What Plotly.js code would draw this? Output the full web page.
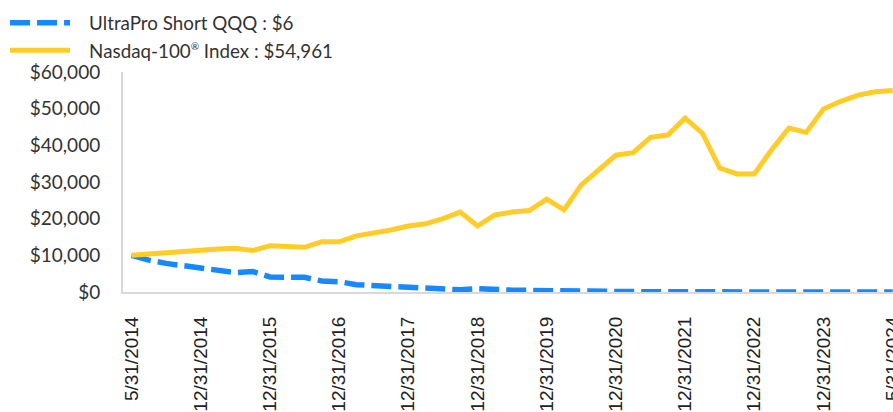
<!DOCTYPE html>
<html>
<head>
<meta charset="utf-8">
<script src="https://cdn.plot.ly/plotly-3.0.1.min.js"></script>
<style>
  html, body { margin: 0; padding: 0; background: #fff; overflow: hidden; }
  #chart { width: 893px; height: 412px; }
</style>
</head>
<body>
<div id="chart"></div>
<script>
// Period index (quarterly points)
const periods = Array.from({length: 45}, (_, i) => i);

const tickIndex = [0, 4, 8, 12, 16, 20, 24, 28, 32, 36, 40, 44];
const tickLabels = ["5/31/2014", "12/31/2014", "12/31/2015", "12/31/2016", "12/31/2017",
  "12/31/2018", "12/31/2019", "12/31/2020", "12/31/2021", "12/31/2022", "12/31/2023", "5/31/2024"];

const yTickValues = [0, 10000, 20000, 30000, 40000, 50000, 60000];
const yTickLabels = ["$0", "$10,000", "$20,000", "$30,000", "$40,000", "$50,000", "$60,000"];

const ultraProShort = [10000, 8700, 7800, 7100, 6400, 5800, 5300, 5600, 4100, 4000,
  4000, 3000, 2800, 2000, 1800, 1500, 1200, 1000, 800, 600,
  900, 600, 500, 450, 350, 350, 200, 150, 80, 70,
  50, 45, 30, 30, 35, 35, 30, 20, 12, 12,
  9, 8, 7, 6, 6];

const nasdaq100 = [10000, 10400, 10800, 11100, 11400, 11700, 11900, 11300, 12600, 12400,
  12200, 13700, 13700, 15300, 16000, 16900, 18000, 18600, 20000, 21800,
  18000, 21000, 21800, 22200, 25300, 22400, 29200, 33100, 37300, 38000,
  42200, 42800, 47400, 43300, 33800, 32200, 32200, 38800, 44700, 43500,
  49900, 52000, 53700, 54600, 54961];

const gap = "\u2002\u2005";
const seriesNames = [
  gap + "UltraPro Short QQQ : $6",
  gap + "Nasdaq-100<sup><span style='font-size:10px'>®</span></sup> Index : $54,961"
];

const traces = [
  {
    x: periods, y: ultraProShort, name: seriesNames[0], type: "scatter", mode: "lines",
    line: {color: "#1689fc", width: 5.5, dash: "20px,7px"},
    cliponaxis: false, hoverinfo: "skip"
  },
  {
    x: periods, y: nasdaq100, name: seriesNames[1], type: "scatter", mode: "lines",
    line: {color: "#ffcc29", width: 5},
    cliponaxis: false, hoverinfo: "skip"
  }
];

const layout = {
  width: 893, height: 412,
  margin: {l: 123, r: 0, t: 72, b: 120, pad: 0},
  paper_bgcolor: "#ffffff", plot_bgcolor: "#ffffff",
  showlegend: true,
  legend: {
    x: -0.1532, xanchor: "left", y: 0.99, yanchor: "top",
    yref: "container",
    font: {family: "Lato, 'Noto Sans', sans-serif", size: 18.8, color: "#333333"},
    itemwidth: 60, traceorder: "normal", tracegroupgap: 0,
    bgcolor: "rgba(0,0,0,0)"
  },
  xaxis: {
    range: [-0.491, 44.017],
    showgrid: false, zeroline: false,
    showline: true, linecolor: "#d9d9d9", linewidth: 2,
    tickmode: "array", tickvals: tickIndex, ticktext: tickLabels,
    tickangle: -90, ticks: "",
    ticklabelstandoff: 15, ticklabeloverflow: "allow",
    tickfont: {family: "'Liberation Sans', Arial, sans-serif", size: 19, color: "#222222"},
    layer: "below traces", fixedrange: true
  },
  yaxis: {
    range: [0, 60000],
    showgrid: false, zeroline: false,
    showline: true, linecolor: "#d9d9d9", linewidth: 2,
    tickmode: "array", tickvals: yTickValues, ticktext: yTickLabels,
    ticks: "",
    ticklabelstandoff: 17,
    tickfont: {family: "Lato, 'Noto Sans', sans-serif", size: 19, color: "#333333"},
    layer: "below traces", fixedrange: true
  }
};

Plotly.newPlot("chart", traces, layout, {staticPlot: true, displayModeBar: false});
</script>
</body>
</html>
